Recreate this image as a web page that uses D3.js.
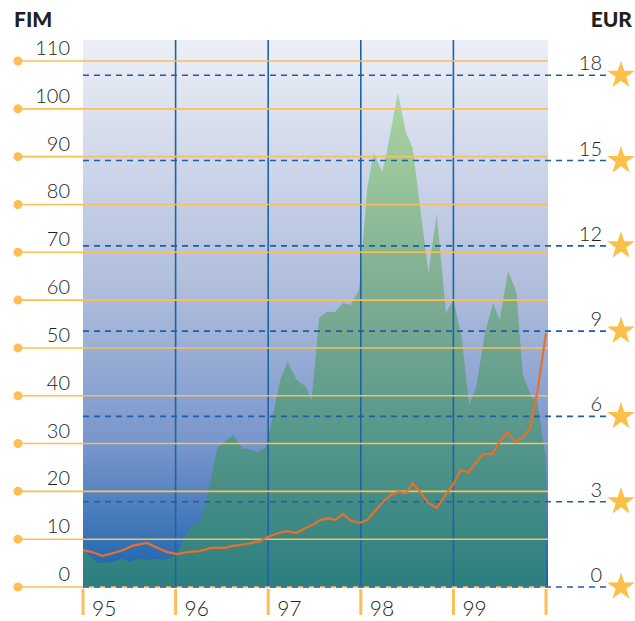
<!DOCTYPE html>
<html>
<head>
<meta charset="utf-8">
<script src="https://cdn.jsdelivr.net/npm/d3@7"></script>
<style>
  body { margin: 0; background: #fff; }
  text { font-family: Lato, "Open Sans", sans-serif; }
</style>
</head>
<body>
<script>
// Chart size
let svgWidth = 635;
let svgHeight = 621;
let margin = { top: 40, right: 87, bottom: 34, left: 83 };
let chartWidth = svgWidth - margin.left - margin.right;
let chartHeight = svgHeight - margin.top - margin.bottom;

// FIM -> EUR conversion rate
let eurRate = 5.94573;

// Year labels on the bottom axis
let yearTicks = [1995, 1996, 1997, 1998, 1999, 2000];
let yearLabels = ['95', '96', '97', '98', '99'];
// Tick values on both vertical axes
let fimTicks = [0, 10, 20, 30, 40, 50, 60, 70, 80, 90, 100, 110];
let eurTicks = [0, 3, 6, 9, 12, 15, 18];

// Green area series (FIM), time as decimal year
let areaTime = [1995.00, 1995.16, 1995.29, 1995.43, 1995.51, 1995.59, 1995.67, 1995.76, 1995.86, 1995.96,
  1996.02, 1996.12, 1996.19, 1996.26, 1996.34, 1996.45, 1996.62, 1996.72, 1996.78, 1996.88, 1996.97,
  1997.04, 1997.13, 1997.21, 1997.31, 1997.40, 1997.47, 1997.55, 1997.63, 1997.72, 1997.81, 1997.89, 1997.98,
  1998.07, 1998.14, 1998.23, 1998.28, 1998.40, 1998.49, 1998.56, 1998.73, 1998.82, 1998.92, 1999.00,
  1999.09, 1999.17, 1999.25, 1999.34, 1999.43, 1999.50, 1999.59, 1999.68, 1999.75, 1999.85, 1999.90, 2000.00];
let areaValues = [7.7, 5.0, 5.2, 5.9, 5.2, 5.9, 5.6, 5.9, 5.6, 6.1,
  7.1, 11.3, 13.2, 13.4, 18.8, 29.1, 31.8, 28.9, 28.9, 28.2, 29.1,
  34.9, 43.3, 47.1, 43.3, 42.0, 39.1, 56.3, 57.5, 57.5, 59.4, 59.0, 62.1,
  83.4, 90.8, 86.8, 90.8, 103.3, 94.9, 91.8, 65.7, 78.0, 57.3, 60.0,
  52.3, 37.9, 42.2, 53.1, 59.4, 55.8, 66.1, 61.7, 44.3, 39.5, 39.5, 26.6];

// Orange line series (FIM)
let lineTime = [1995.00, 1995.10, 1995.21, 1995.29, 1995.43, 1995.53, 1995.69, 1995.80, 1995.91,
  1996.02, 1996.12, 1996.26, 1996.39, 1996.53, 1996.62, 1996.77, 1996.91,
  1997.00, 1997.11, 1997.21, 1997.30, 1997.40, 1997.48, 1997.56, 1997.65, 1997.72, 1997.81, 1997.88, 1997.98,
  1998.07, 1998.23, 1998.32, 1998.40, 1998.49, 1998.56, 1998.64, 1998.73, 1998.82, 1998.93,
  1999.00, 1999.08, 1999.16, 1999.24, 1999.32, 1999.42, 1999.49, 1999.58, 1999.67, 1999.75, 1999.83,
  1999.86, 1999.91, 2000.00];
let lineValues = [7.7, 7.3, 6.5, 6.9, 7.7, 8.6, 9.2, 8.2, 7.3,
  6.9, 7.3, 7.5, 8.2, 8.2, 8.6, 9.0, 9.6,
  10.5, 11.3, 11.7, 11.3, 12.3, 13.0, 14.0, 14.4, 14.0, 15.3, 14.0, 13.4,
  14.0, 17.6, 19.2, 19.9, 19.7, 21.7, 19.9, 17.6, 16.5, 19.7,
  21.5, 24.5, 24.0, 25.9, 27.8, 27.8, 30.1, 32.4, 30.3, 31.4, 33.2,
  36.4, 41.2, 53.1];

let svg = d3.select('body')
  .append('svg')
  .attr('width', svgWidth)
  .attr('height', svgHeight);

let chartGroup = svg.append('g')
  .attr('transform', `translate(${margin.left}, ${margin.top})`);

// Scales
let xScale = d3.scaleLinear()
  .domain([1995, 2000])
  .range([0, chartWidth - 2]);
let yScale = d3.scaleLinear()
  .domain([0, 114.4])
  .range([chartHeight, 0]);
let eurScale = d3.scaleLinear()
  .domain([0, 114.4 / eurRate])
  .range([chartHeight, 0]);

// Gradients
let defs = svg.append('defs');
let bgGrad = defs.append('linearGradient')
  .attr('id', 'bgGrad')
  .attr('x1', 0).attr('y1', 0).attr('x2', 0).attr('y2', 1);
[['0%', '#eceff7'], ['45%', '#b0bedc'], ['75%', '#7594cb'], ['100%', '#1560aa']].forEach(s => {
  bgGrad.append('stop').attr('offset', s[0]).attr('stop-color', s[1]);
});
let areaGrad = defs.append('linearGradient')
  .attr('id', 'areaGrad')
  .attr('gradientUnits', 'userSpaceOnUse')
  .attr('x1', 0).attr('y1', yScale(104)).attr('x2', 0).attr('y2', chartHeight);
[['0%', '#abd5a0'], ['45%', '#79aa92'], ['100%', '#2b7f80']].forEach(s => {
  areaGrad.append('stop').attr('offset', s[0]).attr('stop-color', s[1]);
});

// Background panel
chartGroup.append('rect')
  .attr('x', 0)
  .attr('y', 0)
  .attr('width', chartWidth)
  .attr('height', chartHeight)
  .attr('fill', 'url(#bgGrad)');

// Green area
let areaData = areaTime.map((t, i) => ({ t: t, v: areaValues[i] }));
let createArea = d3.area()
  .x(d => xScale(d.t))
  .y0(chartHeight)
  .y1(d => yScale(d.v));
chartGroup.append('path')
  .attr('d', createArea(areaData))
  .attr('fill', 'url(#areaGrad)');

// Year separators
chartGroup.selectAll('.yearline')
  .data(yearTicks.slice(1, 5))
  .enter()
  .append('line')
  .attr('x1', d => xScale(d))
  .attr('x2', d => xScale(d))
  .attr('y1', 0)
  .attr('y2', chartHeight)
  .attr('stroke', '#1f63a3')
  .attr('stroke-width', 1.6);

// FIM grid lines, dots and labels
let fimGroup = chartGroup.selectAll('.fim')
  .data(fimTicks)
  .enter()
  .append('g')
  .attr('transform', d => `translate(0, ${yScale(d)})`);
fimGroup.append('line')
  .attr('x1', -65)
  .attr('x2', chartWidth)
  .attr('stroke', '#fbbf55')
  .attr('stroke-width', 1.6);
fimGroup.append('circle')
  .attr('cx', -65)
  .attr('r', 4.5)
  .attr('fill', '#fbbf55');
fimGroup.append('text')
  .attr('x', -13)
  .attr('y', -6)
  .attr('text-anchor', 'end')
  .style('font-size', '20px')
  .style('font-weight', 300)
  .attr('fill', '#231f20')
  .text(d => d);

// EUR dashed lines, stars and labels
let eurGroup = chartGroup.selectAll('.eur')
  .data(eurTicks)
  .enter()
  .append('g')
  .attr('transform', d => `translate(0, ${eurScale(d)})`);
eurGroup.append('line')
  .attr('x1', 0)
  .attr('x2', 528)
  .attr('stroke', '#1d5ea8')
  .attr('stroke-width', 1.6)
  .attr('stroke-dasharray', '6,5');
eurGroup.append('path')
  .attr('d', d3.symbol().type(d3.symbolStar).size(240))
  .attr('transform', 'translate(538, 0)')
  .attr('fill', '#fbbf4a');
eurGroup.append('text')
  .attr('x', 519)
  .attr('y', -5)
  .attr('text-anchor', 'end')
  .style('font-size', '20px')
  .style('font-weight', 300)
  .attr('fill', '#231f20')
  .text(d => d);

// Orange price line
let lineData = lineTime.map((t, i) => ({ t: t, v: lineValues[i] }));
let createLine = d3.line()
  .x(d => xScale(d.t))
  .y(d => yScale(d.v));
chartGroup.append('path')
  .attr('d', createLine(lineData))
  .attr('fill', 'none')
  .attr('stroke', '#e8702a')
  .attr('stroke-width', 2.2);

// Bottom year ticks and labels
chartGroup.selectAll('.ytick')
  .data(yearTicks)
  .enter()
  .append('line')
  .attr('x1', d => xScale(d))
  .attr('x2', d => xScale(d))
  .attr('y1', chartHeight + 2)
  .attr('y2', chartHeight + 28)
  .attr('stroke', '#fbbf55')
  .attr('stroke-width', 3);
chartGroup.selectAll('.ylabel')
  .data(yearLabels)
  .enter()
  .append('text')
  .attr('x', (d, i) => xScale(yearTicks[i]) + 9)
  .attr('y', chartHeight + 29)
  .style('font-size', '21px')
  .style('font-weight', 300)
  .attr('fill', '#231f20')
  .text(d => d);

// Axis titles
svg.append('text')
  .attr('x', 14)
  .attr('y', 27)
  .style('font-size', '21px')
  .style('font-weight', 900)
  .attr('fill', '#231f20')
  .text('FIM');
svg.append('text')
  .attr('x', 632)
  .attr('y', 27)
  .attr('text-anchor', 'end')
  .style('font-size', '21px')
  .style('font-weight', 900)
  .attr('fill', '#231f20')
  .text('EUR');
</script>
</body>
</html>
